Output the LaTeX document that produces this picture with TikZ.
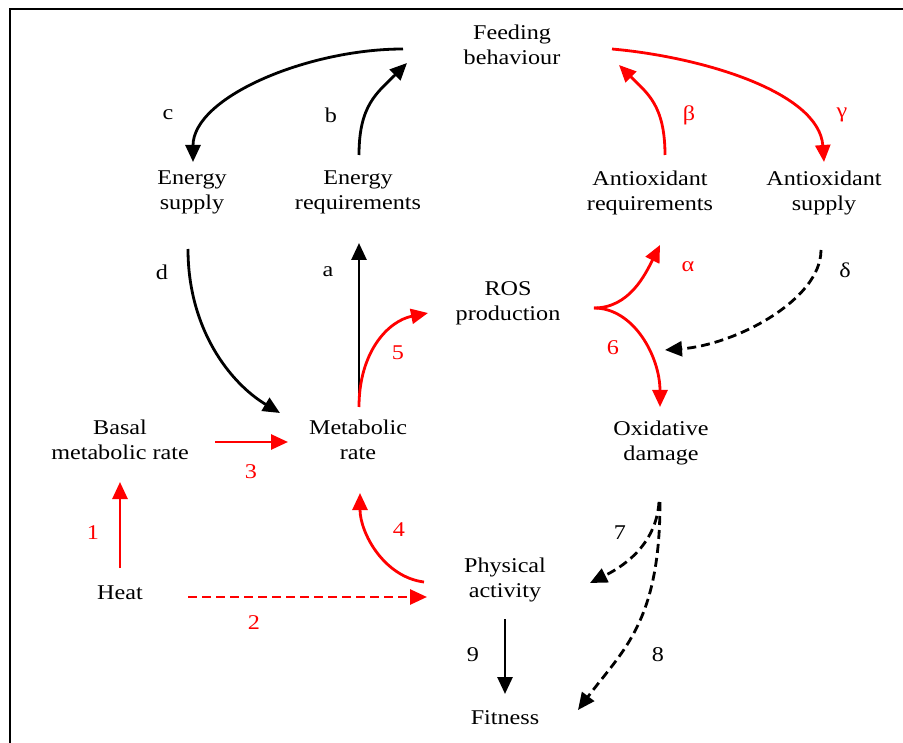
\documentclass[tikz,border=0pt]{standalone}
\usepackage{fontspec}
\setmainfont{Liberation Serif}[FakeStretch=1.15]
\usetikzlibrary{arrows.meta}

\begin{document}
\begin{tikzpicture}[x=1pt,y=-1pt,
	box/.style={align=center,inner sep=0pt,font=\fontsize{21}{25}\selectfont},
	lbl/.style={inner sep=0pt,font=\fontsize{21}{25}\selectfont},
	arr/.style={line width=2.8pt,-{Triangle[length=17pt,width=15pt]}},
	rojo/.style={arr,red},
	punteada/.style={dash pattern=on 9pt off 5pt}]
	\useasboundingbox (0,0) rectangle (903,743);
	\clip (0,0) rectangle (903,743);
	\draw[line width=2pt] (10,760) |- (920,9); %marco
	% nodos
	\node[box] (feed) at (512,45) {Feeding\\behaviour};
	\node[box] (esup) at (192,192) {Energy\\supply};
	\node[box] (ereq) at (358,192) {Energy\\requirements};
	\node[box] (areq) at (650,193) {Antioxidant\\requirements};
	\node[box] (asup) at (824,193) {Antioxidant\\supply};
	\node[box] (ros) at (508,303) {ROS\\production};
	\node[box] (basal) at (120,440) {Basal\\metabolic rate};
	\node[box] (met) at (358,440) {Metabolic\\rate};
	\node[box] (oxd) at (661,443) {Oxidative\\damage};
	\node[box] (heat) at (120,593) {Heat};
	\node[box] (phys) at (505,580) {Physical\\activity};
	\node[box] (fit) at (505,718) {Fitness};
	\coordinate (mid6) at (665,350); %punto sobre la flecha 6
	% flechas negras
	\draw[arr] ([shift={(-109,4)}]feed.center) .. controls +(-95,0) and +(0,-65) .. ([shift={(1,-30)}]esup.center); %c
	\draw[arr] ([shift={(1,-37)}]ereq.center) .. controls +(0,-50) and +(-30,30) .. ([shift={(-105,18)}]feed.center); %b
	\draw[arr] ([shift={(-4,57)}]esup.center) .. controls +(0,80) and +(-50,-30) .. ([shift={(-78,-27)}]met.center); %d
	\draw[arr] ([shift={(1,-33)}]met.center) -- ([shift={(1,51)}]ereq.center); %a
	\draw[arr,punteada] ([shift={(-3,57)}]asup.center) .. controls +(0,50) and +(70,-5) .. (mid6); %delta
	\draw[arr,punteada] ([shift={(-2,59)}]oxd.center) .. controls +(-3,45) and +(30,-15) .. ([shift={(85,3)}]phys.center); %7
	\draw[arr,punteada] ([shift={(-1,59)}]oxd.center) .. controls +(0,120) and +(45,-60) .. ([shift={(73,-8)}]fit.center); %8
	\draw[arr] ([shift={(0,39)}]phys.center) -- ([shift={(0,-24)}]fit.center); %9
	% flechas rojas
	\draw[rojo] ([shift={(15,-38)}]areq.center) .. controls +(0,-50) and +(28,28) .. ([shift={(107,20)}]feed.center); %beta
	\draw[rojo] ([shift={(100,4)}]feed.center) .. controls +(90,8) and +(-5,-70) .. ([shift={(0,-31)}]asup.center); %gamma
	\draw[rojo] ([shift={(1,-33)}]met.center) .. controls +(0,-55) and +(-40,8) .. ([shift={(-80,10)}]ros.center); %5
	\draw[rojo] ([shift={(86,5)}]ros.center) .. controls +(35,0) and +(-15,30) .. ([shift={(10,52)}]areq.center); %alpha
	\draw[rojo] ([shift={(86,5)}]ros.center) .. controls +(40,0) and +(0,-50) .. ([shift={(-1,-36)}]oxd.center); %6
	\draw[rojo] ([shift={(95,2)}]basal.center) -- ([shift={(-70,2)}]met.center); %3
	\draw[rojo] ([shift={(0,-25)}]heat.center) -- ([shift={(0,42)}]basal.center); %1
	\draw[rojo,punteada] ([shift={(68,4)}]heat.center) -- ([shift={(-78,17)}]phys.center); %2
	\draw[rojo] ([shift={(-81,2)}]phys.center) .. controls +(-40,-5) and +(0,40) .. ([shift={(2,53)}]met.center); %4
	% etiquetas
	\node[lbl] (lc) at (168,115) {c};
	\node[lbl] (lb) at (331,115) {b};
	\node[lbl,red] (lbeta) at (689,115) {β};
	\node[lbl,red] (lgamma) at (842,115) {γ};
	\node[lbl] (ld) at (162,272) {d};
	\node[lbl] (la) at (328,272) {a};
	\node[lbl,red] (l5) at (398,353) {5};
	\node[lbl,red] (lalpha) at (688,267) {α};
	\node[lbl,red] (l6) at (613,348) {6};
	\node[lbl] (ldelta) at (845,270) {δ};
	\node[lbl,red] (l3) at (251,472) {3};
	\node[lbl,red] (l1) at (93,533) {1};
	\node[lbl,red] (l2) at (254,623) {2};
	\node[lbl,red] (l4) at (399,530) {4};
	\node[lbl] (l7) at (620,533) {7};
	\node[lbl] (l8) at (658,655) {8};
	\node[lbl] (l9) at (473,655) {9};
\end{tikzpicture}
\end{document}
